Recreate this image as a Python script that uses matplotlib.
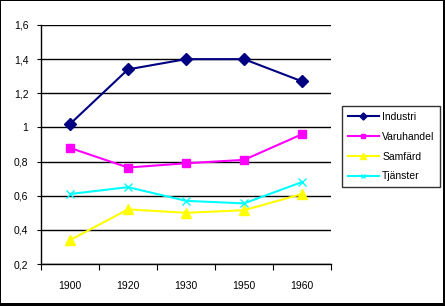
import matplotlib
matplotlib.use("Agg")
import matplotlib.pyplot as plt
from matplotlib.patches import Rectangle
from matplotlib.ticker import FixedLocator, FuncFormatter

plt.rcParams['font.family'] = ['Liberation Sans', 'DejaVu Sans']

years = ['1900', '1920', '1930', '1950', '1960']
industri = [1.02, 1.34, 1.40, 1.40, 1.27]
varuhandel = [0.88, 0.765, 0.79, 0.81, 0.96]
samfard = [0.34, 0.52, 0.50, 0.515, 0.61]
tjanster = [0.61, 0.65, 0.57, 0.555, 0.68]

W, H = 445, 306
fig = plt.figure(figsize=(W / 100, H / 100), dpi=100)
ax = fig.add_axes([41 / W, (H - 264) / H, (331 - 41) / W, (264 - 25) / H])

# outer border (thin top/left, thick right/bottom like the original)
for (x0, y0, w, h) in [(0, 0, 1, H), (0, H - 1, W, 1), (W - 2, 0, 2, H), (0, 0, W, 3)]:
    fig.add_artist(Rectangle((x0 / W, y0 / H), w / W, h / H, transform=fig.transFigure,
                             facecolor='black', edgecolor='none'))

x = list(range(len(years)))
ax.plot(x, industri, color='#000080', lw=1.5, marker='D', ms=6, label='Industri')
ax.plot(x, varuhandel, color='#FF00FF', lw=1.5, marker='s', ms=6, label='Varuhandel')
ax.plot(x, samfard, color='#FFFF00', lw=1.5, marker='^', ms=7, label='Samfärd')
ax.plot(x, tjanster, color='#00FFFF', lw=1.5, marker='x', ms=6, mew=1, label='Tjänster')

ax.set_xlim(-0.5, len(years) - 0.5)
ax.set_ylim(0.2, 1.6)
ax.set_yticks([0.2, 0.4, 0.6, 0.8, 1.0, 1.2, 1.4, 1.6])
ax.yaxis.set_major_formatter(FuncFormatter(lambda v, p: ('%g' % round(v, 1)).replace('.', ',')))
ax.yaxis.grid(True, color='black', lw=1)
ax.set_axisbelow(True)

ax.xaxis.set_major_locator(FixedLocator([i - 0.5 for i in range(len(years) + 1)]))
ax.xaxis.set_minor_locator(FixedLocator(x))
ax.set_xticklabels([])
ax.set_xticklabels(years, minor=True)
ax.tick_params(axis='x', which='minor', length=0, pad=12, labelsize=7.5)
ax.tick_params(axis='x', which='major', length=4, direction='out', color='black')
ax.tick_params(axis='y', length=3, direction='out', labelsize=7.5, pad=6)

for s in ['top', 'right']:
    ax.spines[s].set_visible(False)
for s in ['left', 'bottom']:
    ax.spines[s].set_color('black')
    ax.spines[s].set_linewidth(1)

leg = fig.legend(loc='upper left', bbox_to_anchor=(342 / W, 1 - 106 / H), fontsize=7.5,
                 frameon=True, fancybox=False, edgecolor='black', handlelength=3,
                 markerscale=0.6, borderpad=0.55, labelspacing=0.95, handletextpad=0.3,
                 borderaxespad=0)
leg.get_frame().set_linewidth(1)

fig.savefig('out.png', dpi=100)
